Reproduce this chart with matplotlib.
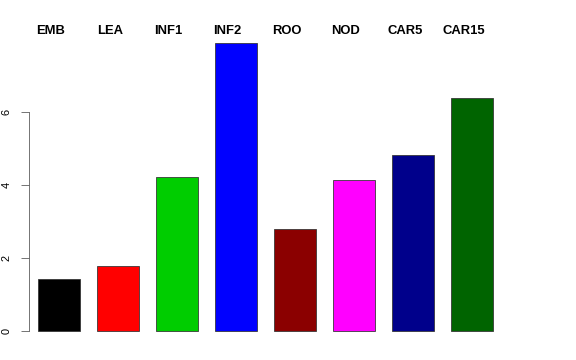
import matplotlib
matplotlib.use("Agg")
import matplotlib.pyplot as plt
import numpy as np

categories = ["EMB", "LEA", "INF1", "INF2", "ROO", "NOD", "CAR5", "CAR15"]
values = [1.42, 1.78, 4.22, 7.89, 2.79, 4.14, 4.82, 6.36]
colors = ["#000000", "#FF0000", "#00CD00", "#0000FF", "#8B0000", "#FF00FF", "#00008B", "#006400"]
yticks = [0, 2, 4, 6]

plt.rcParams['font.family'] = ['Liberation Sans', 'DejaVu Sans']

fig = plt.figure(figsize=(8, 5), dpi=72)
ax = fig.add_axes([29/576, 17.5/360, (502-29)/576, (342.5-31)/360])

x = np.arange(len(categories))
ax.bar(x, values, width=0.71, color=colors, edgecolor="#333333", linewidth=0.8)

ymax = max(values)
ax.set_ylim(-0.04*ymax, ymax*1.04)
ax.set_xlim(-0.508, len(categories)-1+0.508)

for s in ["top", "right", "bottom"]:
    ax.spines[s].set_visible(False)
ax.spines["left"].set_bounds(yticks[0], yticks[-1])
ax.spines["left"].set_color("#555555")
ax.set_xticks([])
ax.set_yticks(yticks)
ax.set_yticklabels([str(t) for t in yticks], rotation=90, va="center", fontsize=11)
ax.tick_params(axis="y", length=8, color="#555555", pad=9)

# labels above the plot, slightly left of each bar centre
trans = matplotlib.transforms.blended_transform_factory(ax.transData, fig.transFigure)
for i, c in enumerate(categories):
    ax.text(x[i] - 0.14, 1 - 31/360, c, transform=trans, ha="center", va="center",
            fontsize=13, fontweight="bold", clip_on=False)

fig.savefig("out.png", dpi=72)
